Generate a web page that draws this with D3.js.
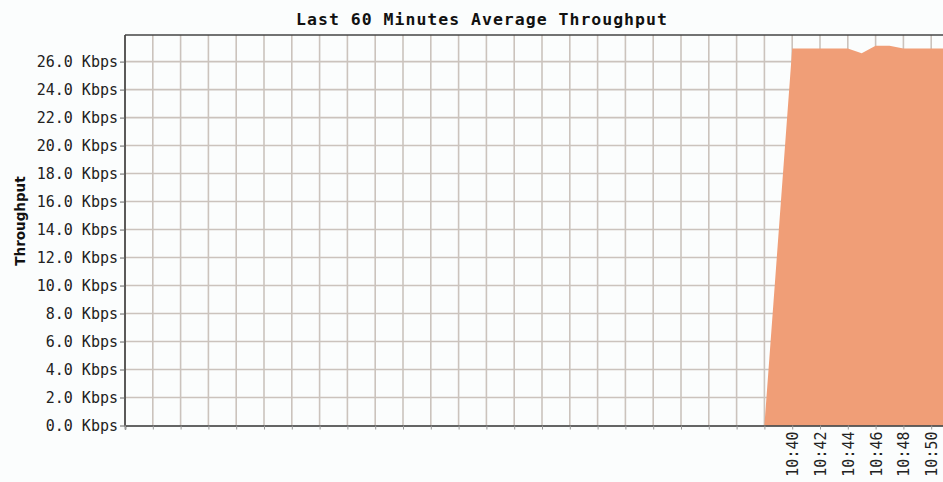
<!DOCTYPE html>
<html>
<head>
<meta charset="utf-8">
<script src="https://cdn.jsdelivr.net/npm/d3@7"></script>
<style>
  html, body { margin: 0; padding: 0; background: #fbfdfd; overflow: hidden; }
  svg { display: block; }
</style>
</head>
<body>
<svg id="chart" width="943" height="482"></svg>
<script>
// Throughput samples, one per minute (HH:MM), in Kbps
const sampleTimes = ["10:38", "10:40", "10:41", "10:42", "10:43", "10:44", "10:45",
                     "10:46", "10:47", "10:48", "10:49", "10:50", "10:51", "10:52"];
const throughputKbps = [0, 26.94, 26.94, 26.94, 26.94, 26.94, 26.59,
                        27.13, 27.13, 26.94, 26.94, 26.94, 26.94, 26.94];

// Time window of the chart and labelled times
const windowStart = "09:52";
const windowEnd = "10:52";
const labelledTimes = ["10:40", "10:42", "10:44", "10:46", "10:48", "10:50"];

// Value axis ticks in Kbps
const yTickValues = [0, 2, 4, 6, 8, 10, 12, 14, 16, 18, 20, 22, 24, 26];
const yMax = 27.9;

const parseTime = d3.timeParse("%H:%M");
const data = sampleTimes.map((t, i) => ({ t: parseTime(t), v: throughputKbps[i] }));

const svg = d3.select("#chart");
const margin = { left: 125, top: 35, bottom: 425.5 };
const plotRight = 959;

const x = d3.scaleTime()
  .domain([parseTime(windowStart), parseTime(windowEnd)])
  .range([margin.left, plotRight]);
const y = d3.scaleLinear()
  .domain([0, yMax])
  .range([margin.bottom, margin.top]);

const gridColor = "#cbc3bd";
const monoFont = "'DejaVu Sans Mono', monospace";

// Every two minutes across the window
const xTicks = d3.timeMinute.every(2).range(parseTime(windowStart), d3.timeMinute.offset(parseTime(windowEnd), 1));

// Grid
const grid = svg.append("g");
grid.selectAll("line.v").data(xTicks).join("line")
  .attr("x1", d => x(d)).attr("x2", d => x(d))
  .attr("y1", margin.top).attr("y2", margin.bottom)
  .attr("stroke", gridColor).attr("stroke-width", 1.6);
grid.selectAll("line.h").data(yTickValues.filter(v => v > 0)).join("line")
  .attr("x1", margin.left).attr("x2", plotRight)
  .attr("y1", d => y(d)).attr("y2", d => y(d))
  .attr("stroke", gridColor).attr("stroke-width", 1.6);

// Throughput area
const area = d3.area()
  .x(d => x(d.t))
  .y0(y(0))
  .y1(d => y(d.v));
svg.append("path")
  .datum(data)
  .attr("d", area)
  .attr("fill", "#f09e77");

// Frame: left axis, top border, baseline
svg.append("line")
  .attr("x1", margin.left).attr("x2", margin.left)
  .attr("y1", margin.top).attr("y2", margin.bottom)
  .attr("stroke", "#333").attr("stroke-width", 1.5);
svg.append("line")
  .attr("x1", margin.left).attr("x2", plotRight)
  .attr("y1", margin.top).attr("y2", margin.top)
  .attr("stroke", "#444").attr("stroke-width", 1.5);

// Y axis
const yAxis = d3.axisLeft(y)
  .tickValues(yTickValues)
  .tickSize(5)
  .tickPadding(2)
  .tickFormat(d => d3.format(".1f")(d) + " Kbps");
const gy = svg.append("g")
  .attr("transform", `translate(${margin.left},0)`)
  .call(yAxis);
gy.select(".domain").remove();
gy.selectAll(".tick line").attr("stroke", "#666");
gy.selectAll(".tick text")
  .attr("font-family", monoFont)
  .attr("font-size", 15)
  .attr("fill", "#222");

// X axis
const labelSet = new Set(labelledTimes);
const fmt = d3.timeFormat("%H:%M");
const xAxis = d3.axisBottom(x)
  .tickValues(xTicks)
  .tickSize(4)
  .tickFormat(d => labelSet.has(fmt(d)) ? fmt(d) : "");
const gx = svg.append("g")
  .attr("transform", `translate(0,${margin.bottom})`)
  .call(xAxis);
gx.select(".domain")
  .attr("stroke", "#333").attr("stroke-width", 1.5);
gx.selectAll(".tick line").attr("stroke", "#999");
gx.selectAll(".tick text")
  .attr("font-family", monoFont)
  .attr("font-size", 15)
  .attr("fill", "#222")
  .attr("text-anchor", "end")
  .attr("dy", null)
  .attr("y", null)
  .attr("transform", "translate(5.5,6) rotate(-90)");

// Title
svg.append("text")
  .attr("x", 482).attr("y", 25)
  .attr("text-anchor", "middle")
  .attr("font-family", monoFont)
  .attr("font-weight", "bold")
  .attr("font-size", 16.5)
  .attr("letter-spacing", 1)
  .attr("fill", "#111")
  .text("Last 60 Minutes Average Throughput");

// Y axis title
svg.append("text")
  .attr("transform", "translate(25,221) rotate(-90)")
  .attr("text-anchor", "middle")
  .attr("font-family", "'DejaVu Sans', sans-serif")
  .attr("font-weight", "bold")
  .attr("font-size", 13.5)
  .attr("fill", "#111")
  .text("Throughput");
</script>
</body>
</html>
